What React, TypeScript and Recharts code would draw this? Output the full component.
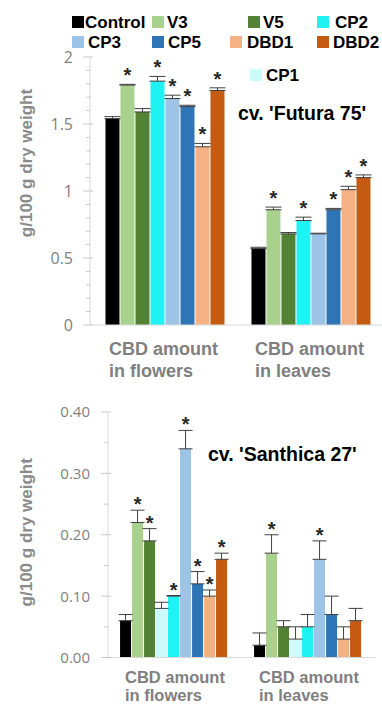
import React from 'react';
import { BarChart, Bar, XAxis, YAxis, ErrorBar, LabelList, Legend, Label } from 'recharts';

// series shown in the legend (CP1 only appears in the 'Santhica 27' panel)
const legendNames = ['Control', 'V3', 'V5', 'CP2', 'CP3', 'CP5', 'DBD1', 'DBD2', 'CP1'];
const seriesColors = ['#000000', '#a9d18e', '#548235', '#1ef2f2', '#9dc3e6', '#2e75b6', '#f4b183', '#c55a11', '#ccfbfb'];

const categories = ['CBD amount\nin flowers', 'CBD amount\nin leaves'];

// cv. 'Futura 75'
const futuraSeries = ['Control', 'V3', 'V5', 'CP2', 'CP3', 'CP5', 'DBD1', 'DBD2'];
const futuraFlowers = [1.54, 1.79, 1.59, 1.82, 1.69, 1.63, 1.33, 1.75];
const futuraFlowersErr = [0.015, 0.006, 0.025, 0.035, 0.025, 0.01, 0.025, 0.02];
const futuraFlowersSig = [false, true, false, true, true, true, true, true];
const futuraLeaves = [0.57, 0.86, 0.68, 0.78, 0.68, 0.86, 1.01, 1.1];
const futuraLeavesErr = [0.01, 0.02, 0.01, 0.025, 0.005, 0.01, 0.025, 0.02];
const futuraLeavesSig = [false, true, false, true, false, true, true, true];
const futuraTicks = [0, 0.1, 0.2, 0.3, 0.4, 0.5, 0.6, 0.7, 0.8, 0.9, 1, 1.1, 1.2, 1.3, 1.4, 1.5, 1.6, 1.7, 1.8, 1.9, 2];
const futuraLabels = [0, 0.5, 1, 1.5, 2];

// cv. 'Santhica 27'
const santhicaSeries = ['Control', 'V3', 'V5', 'CP1', 'CP2', 'CP3', 'CP5', 'DBD1', 'DBD2'];
const santhicaFlowers = [0.06, 0.22, 0.19, 0.08, 0.1, 0.34, 0.12, 0.1, 0.16];
const santhicaFlowersErr = [0.01, 0.02, 0.02, 0.01, 0.001, 0.03, 0.02, 0.01, 0.01];
const santhicaFlowersSig = [false, true, true, false, true, true, true, true, true];
const santhicaLeaves = [0.02, 0.17, 0.05, 0.03, 0.05, 0.16, 0.07, 0.03, 0.06];
const santhicaLeavesErr = [0.02, 0.03, 0.01, 0.02, 0.02, 0.03, 0.03, 0.02, 0.02];
const santhicaLeavesSig = [false, true, false, false, false, true, false, false, false];
const santhicaTicks = [0, 0.05, 0.1, 0.15, 0.2, 0.25, 0.3, 0.35, 0.4];
const santhicaLabels = [0, 0.1, 0.2, 0.3, 0.4];

const colorOf = (s: string) => seriesColors[legendNames.indexOf(s)];

const buildRows = (series: string[], groups: { vals: number[]; errs: number[]; sig: boolean[] }[]) =>
  categories.map((name, c) => {
    const row: any = { name };
    const g = groups[c];
    series.forEach((s, i) => {
      row[s] = g.vals[i];
      row[s + '_err'] = [0, g.errs[i]];
      row[s + '_star'] = g.sig[i] ? g.errs[i] / g.vals[i] : null;
    });
    return row;
  });

const futuraData = buildRows(futuraSeries, [
  { vals: futuraFlowers, errs: futuraFlowersErr, sig: futuraFlowersSig },
  { vals: futuraLeaves, errs: futuraLeavesErr, sig: futuraLeavesSig },
]);
const santhicaData = buildRows(santhicaSeries, [
  { vals: santhicaFlowers, errs: santhicaFlowersErr, sig: santhicaFlowersSig },
  { vals: santhicaLeaves, errs: santhicaLeavesErr, sig: santhicaLeavesSig },
]);

const BOLD = '"Liberation Sans", Arial, sans-serif';
const TICK_FONT = '"Open Sans", sans-serif';

const makeYTick = (labels: number[], fmt: (v: number) => string, fontSize: number, gap: number) => (props: any) => {
  const { x, y, payload } = props;
  const v = payload.value;
  const major = labels.some((l) => Math.abs(l - v) < 1e-6);
  return (
    <g>
      <line x1={major ? x - 7 : x - 4} x2={major ? x + 3 : x} y1={y} y2={y} stroke="#c8c8c8" strokeWidth={1} />
      {major && (
        <text x={x - gap} y={y} dy="0.36em" textAnchor="end" fontSize={fontSize} fontFamily={TICK_FONT} fill="#7f7f7f">
          {fmt(v)}
        </text>
      )}
    </g>
  );
};

// two-line category label, left aligned block centred on the band
const makeXTick = (first: number, step: number, size: number, half: number) => (props: any) => {
  const { x, y, payload } = props;
  const lines = String(payload.value).split('\n');
  return (
    <g>
      {lines.map((t, i) => (
        <text key={i} x={x - half} y={y + first + i * step} textAnchor="start" fontSize={size} fontWeight="bold" fontFamily={BOLD} fill="#7f7f7f">
          {t}
        </text>
      ))}
    </g>
  );
};

const makeStar = (lift: number) => (props: any) => {
  const vb = props.viewBox ?? props;
  const { value } = props;
  if (value == null) return null;
  const x = Number(vb.x);
  const y = Number(vb.y);
  const w = Number(vb.width);
  const h = Number(vb.height);
  const errTop = y - h * Number(value);
  return (
    <text x={x + w / 2} y={errTop - lift} textAnchor="middle" fontSize={20} fontWeight="bold" fontFamily={BOLD} fill="#262626">
      *
    </text>
  );
};

const yLabel = (dy: number) => (props: any) => {
  const vb = props.viewBox;
  const cy = vb.y + vb.height / 2 + dy;
  return (
    <text x={32} y={cy} transform={`rotate(-90, 32, ${cy})`} textAnchor="middle" fontSize={17} fontWeight="bold" fontFamily={BOLD} fill="#8a8a8a">
      g/100 g dry weight
    </text>
  );
};

// legend slots: [marker x, text x, baseline]
const legendSlots = [
  [72, 85, 28], [152, 167, 28], [248, 263, 28], [317, 335, 28],
  [72, 88, 48], [152, 168, 48], [230, 247, 48], [317, 333, 48],
  [250, 266, 81],
];

const LegendBox = () => (
  <svg width={382} height={90} style={{ display: 'block' }}>
    {legendNames.map((n, i) => {
      const [mx, tx, by] = legendSlots[i];
      return (
        <g key={n}>
          <rect x={mx} y={by - 12} width={12} height={12} fill={seriesColors[i]} />
          <text x={tx} y={by} fontSize={17} fontWeight="bold" fontFamily={BOLD} fill="#000">
            {n}
          </text>
        </g>
      );
    })}
  </svg>
);

export default function App() {
  return (
    <div style={{ position: 'absolute', left: 0, top: 0, width: 382, height: 705, background: '#fff', overflow: 'hidden' }}>
      <div style={{ position: 'absolute', left: 0, top: 0 }}>
        <BarChart width={382} height={380} data={futuraData} margin={{ top: 57, right: 0, bottom: 0, left: 0 }} barCategoryGap="10.6%" barGap={1}>
          <Legend verticalAlign="middle" align="center" layout="horizontal" wrapperStyle={{ left: 0, top: 0, width: 382, height: 90 }} content={() => <LegendBox />} />
          <XAxis dataKey="name" interval={0} tickLine={false} tickSize={0} tickMargin={0} height={55} axisLine={{ stroke: '#d9d9d9' }} tick={makeXTick(30, 22, 18, 54)} />
          <YAxis
            type="number"
            domain={[0, 2]}
            ticks={futuraTicks}
            interval={0}
            width={90}
            tickLine={false}
            tickSize={0}
            tickMargin={0}
            axisLine={{ stroke: '#d9d9d9' }}
            tick={makeYTick(futuraLabels, (v) => String(v), 16, 17)}
          >
            <Label content={yLabel(-28)} />
          </YAxis>
          {futuraSeries.map((s) => (
            <Bar key={s} dataKey={s} fill={colorOf(s)} isAnimationActive={false}>
              <ErrorBar dataKey={s + '_err'} width={8} stroke="#404040" strokeWidth={1} direction="y" />
              <LabelList dataKey={s + '_star'} content={makeStar(2)} />
            </Bar>
          ))}
          <text x={238} y={120} fontSize={19.5} fontWeight="bold" fontFamily={BOLD} fill="#000">
            cv. 'Futura 75'
          </text>
        </BarChart>
      </div>
      <div style={{ position: 'absolute', left: 0, top: 380 }}>
        <BarChart width={382} height={325} data={santhicaData} margin={{ top: 32, right: 6, bottom: 0, left: 0 }} barCategoryGap="9%" barGap={1}>
          <XAxis dataKey="name" interval={0} tickLine={false} tickSize={0} tickMargin={0} height={47.5} axisLine={{ stroke: '#d9d9d9' }} tick={makeXTick(25, 18.5, 16.5, 50)} />
          <YAxis
            type="number"
            domain={[0, 0.4]}
            ticks={santhicaTicks}
            interval={0}
            width={108}
            tickLine={false}
            tickSize={0}
            tickMargin={0}
            axisLine={{ stroke: '#d9d9d9' }}
            tick={makeYTick(santhicaLabels, (v) => v.toFixed(2), 15, 18)}
          >
            <Label content={yLabel(-2.5)} />
          </YAxis>
          {santhicaSeries.map((s) => (
            <Bar key={s} dataKey={s} fill={colorOf(s)} isAnimationActive={false}>
              <ErrorBar dataKey={s + '_err'} width={7} stroke="#404040" strokeWidth={1} direction="y" />
              <LabelList dataKey={s + '_star'} content={makeStar(-1)} />
            </Bar>
          ))}
          <text x={208} y={81} fontSize={19.5} fontWeight="bold" fontFamily={BOLD} fill="#000">
            cv. 'Santhica 27'
          </text>
        </BarChart>
      </div>
    </div>
  );
}
